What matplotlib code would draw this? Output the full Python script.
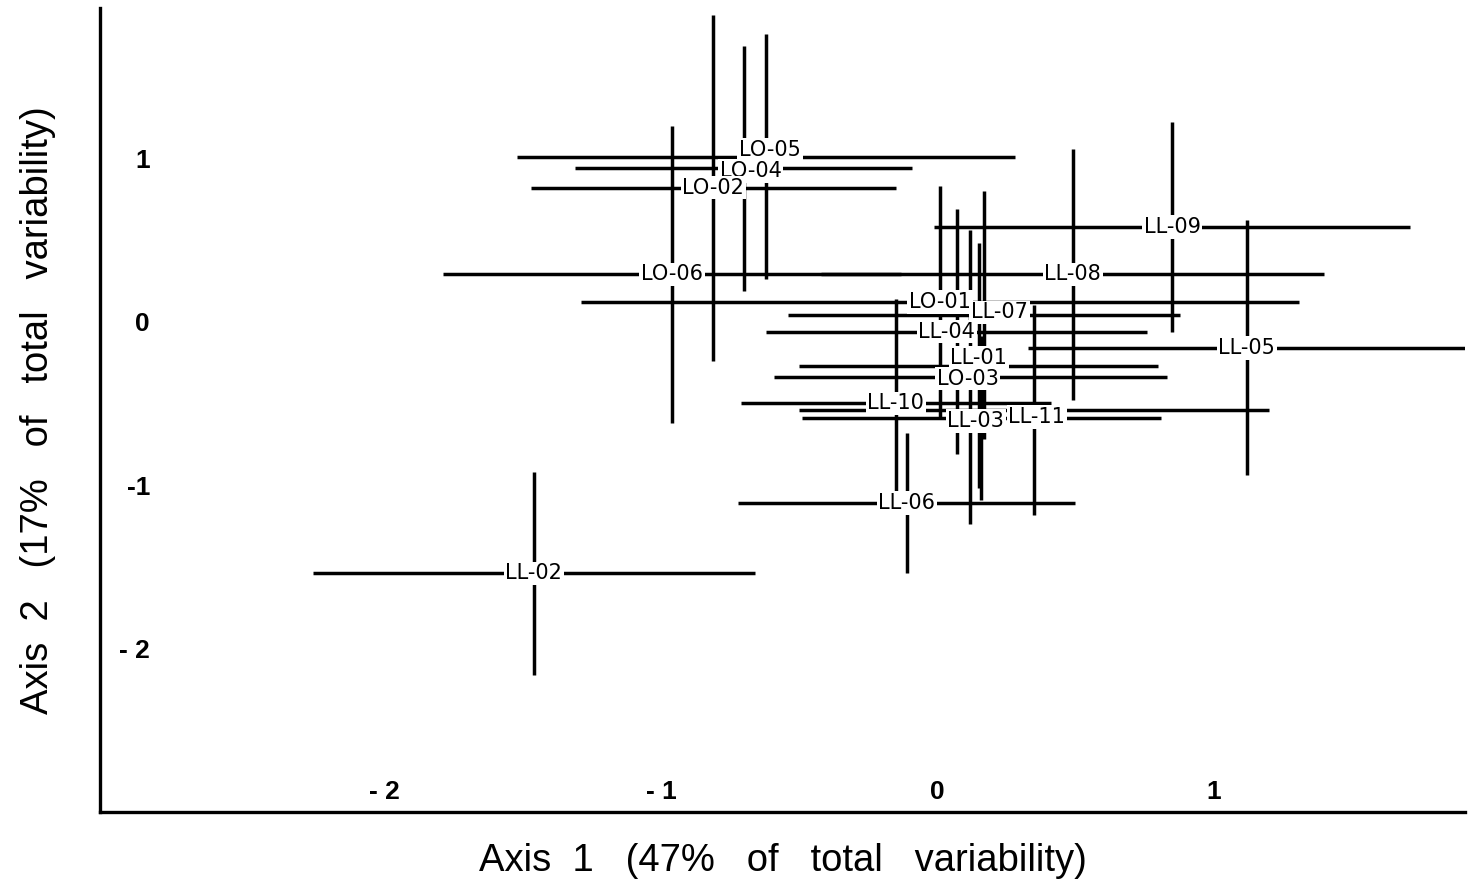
import matplotlib
matplotlib.use("Agg")
import matplotlib.pyplot as plt

# sample labels and centroid scores on the two axes, with their spreads
labels = ["LO-05", "LO-04", "LO-02", "LO-06", "LO-01", "LO-03",
          "LL-09", "LL-08", "LL-07", "LL-04", "LL-05", "LL-01",
          "LL-10", "LL-03", "LL-11", "LL-06", "LL-02"]
axis1 = [-0.62, -0.70, -0.81, -0.96, 0.01, 0.12,
         0.85, 0.49, 0.17, 0.07, 1.12, 0.15,
         -0.15, 0.16, 0.35, -0.11, -1.46]
axis2 = [1.01, 0.94, 0.82, 0.29, 0.12, -0.34,
         0.58, 0.29, 0.04, -0.06, -0.16, -0.27,
         -0.50, -0.59, -0.54, -1.11, -1.54]
sd1 = [0.90, 0.61, 0.66, 0.83, 1.30, 0.71,
       0.86, 0.91, 0.71, 0.69, 0.79, 0.65,
       0.56, 0.65, 0.85, 0.61, 0.80]
sd2 = [0.75, 0.75, 1.06, 0.91, 0.71, 0.90,
       0.64, 0.77, 0.76, 0.75, 0.78, 0.75,
       0.64, 0.50, 0.64, 0.43, 0.62]

xticks = [-2, -1, 0, 1]
xticklabels = ["- 2", "- 1", "0", "1"]
yticks = [1, 0, -1, -2]
yticklabels = ["1", "0", "-1", "- 2"]

# small nudges (points) so crowded labels sit like in the printed figure
nudge = {"LO-05": (3, 5), "LO-04": (5, -2), "LL-07": (11, 2), "LL-04": (-7, 0),
         "LL-01": (0, 6), "LO-03": (-2, -1), "LL-03": (-4, -2), "LL-11": (2, -5)}

fig = plt.figure(figsize=(14.77, 8.92), dpi=100)
ax = fig.add_axes([0.0677, 0.0897, 0.9242, 0.9013])

ax.errorbar(axis1, axis2, xerr=sd1, yerr=sd2, fmt="none",
            ecolor="black", elinewidth=2.5, capsize=0)

for lab, x, y in zip(labels, axis1, axis2):
    dx, dy = nudge.get(lab, (0, 0))
    ax.annotate(lab, (x, y), xytext=(dx, dy), textcoords="offset points",
                ha="center", va="center", fontsize=15,
                family="DejaVu Sans", zorder=5,
                bbox=dict(facecolor="white", edgecolor="none", pad=1.2))

ax.set_xlim(-3.03, 1.91)
ax.set_ylim(-3.0, 1.92)

ax.spines["top"].set_visible(False)
ax.spines["right"].set_visible(False)
ax.spines["left"].set_linewidth(2.4)
ax.spines["bottom"].set_linewidth(2.4)

ax.set_xticks(xticks)
ax.set_xticklabels(xticklabels, fontsize=19, family="Liberation Sans", weight="bold")
ax.set_yticks(yticks)
ax.set_yticklabels(yticklabels, fontsize=19, family="Liberation Sans", weight="bold")
ax.tick_params(axis="x", length=0, pad=-23)
ax.tick_params(axis="y", length=0, pad=-36)

ax.set_xlabel("Axis  1   (47%   of   total   variability)", fontsize=27.5,
              family="Liberation Sans", labelpad=22)
ax.set_ylabel("Axis  2   (17%   of   total   variability)", fontsize=27.5,
              family="Liberation Sans", labelpad=32)

fig.savefig("out.png", dpi=100)
